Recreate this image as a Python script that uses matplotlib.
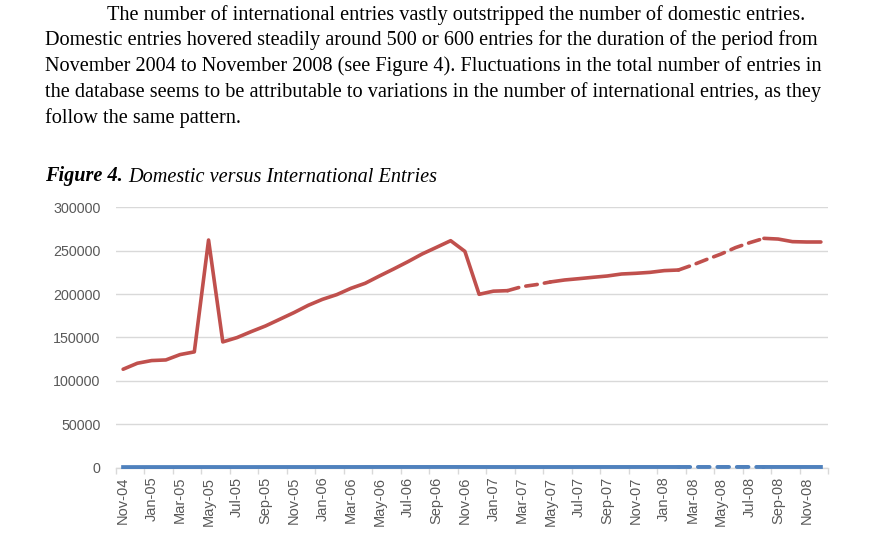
import matplotlib
matplotlib.use("Agg")
import matplotlib.pyplot as plt
import numpy as np

# monthly categories, Nov 2004 - Dec 2008
months = ["Nov-04", "Dec-04",
          "Jan-05", "Feb-05", "Mar-05", "Apr-05", "May-05", "Jun-05",
          "Jul-05", "Aug-05", "Sep-05", "Oct-05", "Nov-05", "Dec-05",
          "Jan-06", "Feb-06", "Mar-06", "Apr-06", "May-06", "Jun-06",
          "Jul-06", "Aug-06", "Sep-06", "Oct-06", "Nov-06", "Dec-06",
          "Jan-07", "Feb-07", "Mar-07", "Apr-07", "May-07", "Jun-07",
          "Jul-07", "Aug-07", "Sep-07", "Oct-07", "Nov-07", "Dec-07",
          "Jan-08", "Feb-08", "Mar-08", "Apr-08", "May-08", "Jun-08",
          "Jul-08", "Aug-08", "Sep-08", "Oct-08", "Nov-08", "Dec-08"]

international = [113300, 120200, 123300, 124000, 130200, 133300, 262300, 144800,
                 149800, 156700, 163200, 170900, 178600, 187000, 193900, 199300,
                 206600, 212400, 220800, 228900, 237300, 246200, 253800, 261500,
                 249200, 199700, 203300, 203900, 208500, 210800, 213900, 216200,
                 217700, 219300, 220800, 223100, 223900, 225000, 227000, 227700,
                 233500, 240000, 246200, 253500, 259200, 264200, 263400, 260400,
                 260000, 260000]

domestic = [480, 495, 510, 505, 520, 530, 540, 525, 515, 530, 545, 550,
            560, 555, 570, 580, 575, 590, 600, 610, 605, 600, 615, 620,
            610, 590, 580, 575, 570, 565, 560, 570, 575, 580, 590, 585,
            595, 600, 605, 600, 610, 615, 620, 625, 630, 620, 610, 605,
            600, 600]

# (start, end, dashed) pieces of each line
red_parts = [(0, 27, False), (27, 30, True), (30, 39, False), (39, 45, True), (45, 49, False)]
blue_parts = [(0, 39, False), (39, 45, True), (45, 49, False)]

para = ["The number of international entries vastly outstripped the number of domestic entries.",
        "Domestic entries hovered steadily around 500 or 600 entries for the duration of the period from",
        "November 2004 to November 2008 (see Figure 4). Fluctuations in the total number of entries in",
        "the database seems to be attributable to variations in the number of international entries, as they",
        "follow the same pattern."]

W, H = 880, 541
fig = plt.figure(figsize=(W / 100, H / 100), dpi=100)
fig.patch.set_facecolor("white")

# paragraph
serif = "Liberation Serif"
line_x = [107, 45, 45, 45, 45]
base_y = [20, 45.5, 71, 97, 123]
for txt, lx, by in zip(para, line_x, base_y):
    fig.text(lx / W, 1 - by / H, txt, fontsize=14.6, family=serif,
             ha="left", va="baseline", color="black")

# caption
r = fig.canvas.get_renderer()
cap1 = fig.text(45 / W, 1 - 181.5 / H, "Figure 4.", fontsize=14.6, family=serif,
                style="italic", weight="bold", va="baseline")
bb = cap1.get_window_extent(r)
fig.text(bb.x1 / W + 5 / W, 1 - 181.5 / H, "Domestic versus International Entries",
         fontsize=14.6, family=serif, style="italic", va="baseline")

# chart
ax = fig.add_axes([116 / W, 1 - 467.5 / H, (828 - 116) / W, (467.5 - 207.3) / H])
x = np.arange(len(months))
red = "#C0504D"
blue = "#4F81BD"

for s, e, dashed in blue_parts:
    ax.plot(x[s:e + 1], domestic[s:e + 1], color=blue, lw=2.8,
            ls=(0, (3.0, 2.0)) if dashed else "-", dash_capstyle="round",
            solid_joinstyle="round", clip_on=False, zorder=3)
for s, e, dashed in red_parts:
    ax.plot(x[s:e + 1], international[s:e + 1], color=red, lw=2.6,
            ls=(0, (3.2, 2.0)) if dashed else "-", dash_capstyle="round",
            solid_joinstyle="round", solid_capstyle="round", zorder=4)

ax.set_xlim(-0.5, len(months) - 0.5)
ax.set_ylim(0, 300000)
ax.set_yticks(np.arange(0, 300001, 50000))
ax.set_yticklabels([str(v) for v in range(0, 300001, 50000)])
ax.yaxis.grid(True, color="#d9d9d9", lw=1)
ax.set_axisbelow(True)

ax.set_xticks(np.arange(-0.5, len(months), 2))
ax.set_xticklabels([])
ax.set_xticks(x[::2], minor=True)
ax.set_xticklabels(months[::2], minor=True, rotation=90)
ax.tick_params(axis="x", which="major", length=4, color="#d9d9d9", width=1)
ax.tick_params(axis="x", which="minor", length=0, pad=6.5, labelsize=10.5,
               labelcolor="#595959")
ax.tick_params(axis="y", length=0, pad=11, labelsize=10.3, labelcolor="#595959")
for lab in ax.get_xticklabels(minor=True) + ax.get_yticklabels():
    lab.set_family("Liberation Sans")

for side in ["left", "right", "top"]:
    ax.spines[side].set_visible(False)
ax.spines["bottom"].set_color("#d9d9d9")
ax.spines["bottom"].set_linewidth(1)

fig.savefig("out.png", dpi=100)
